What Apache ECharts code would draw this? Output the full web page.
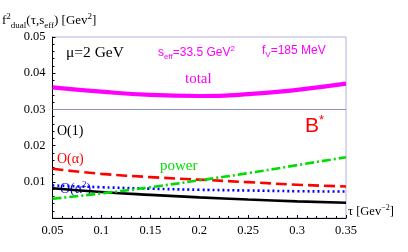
<!DOCTYPE html>
<html><head><meta charset="utf-8">
<script src="https://cdn.jsdelivr.net/npm/echarts@6/dist/echarts.min.js"></script>
<style>html,body{margin:0;padding:0;background:#fff}#c{width:408px;height:252px}</style>
</head><body><div id="c"></div>
<script>
const tau = [0.05, 0.1, 0.15, 0.2, 0.25, 0.3, 0.35];
const total = [0.0361, 0.0349, 0.0340, 0.0337, 0.0342, 0.0354, 0.0371];
const oAlpha = [0.0136, 0.0122, 0.0113, 0.0106, 0.0099, 0.0092, 0.0087];
const power = [0.0053, 0.0068, 0.0085, 0.0104, 0.0124, 0.0146, 0.0168];
const oAlpha2 = [0.0090, 0.0085, 0.0081, 0.0078, 0.0076, 0.0074, 0.0073];
const o1 = [0.0082, 0.0072, 0.0064, 0.0057, 0.0051, 0.0046, 0.0042];
const refLine = 0.0343;
const xTicks = [0.05, 0.1, 0.15, 0.2, 0.25, 0.3, 0.35];
const yTicks = [0.01, 0.02, 0.03, 0.04, 0.05];

const pts = arr => tau.map((t, i) => [t, arr[i]]);
const serif = '"Liberation Serif", "DejaVu Serif", serif';
const sans = '"Liberation Sans", Arial, sans-serif';

const chart = echarts.init(document.getElementById('c'), null, {renderer: 'canvas'});
chart.setOption({
  animation: false,
  grid: {left: 52.5, right: 62, top: 37, bottom: 34, show: true, borderColor: '#b0b0dc', borderWidth: 1},
  xAxis: {
    type: 'value', min: 0.05, max: 0.35, interval: 0.05,
    axisLine: {show: true, lineStyle: {color: '#000', width: 1}},
    axisTick: {show: true, inside: true, length: 3, lineStyle: {color: '#000'}},
    minorTick: {show: true, splitNumber: 5, length: 2, lineStyle: {color: '#000'}},
    splitLine: {show: false},
    axisLabel: {color: '#000', fontFamily: serif, fontSize: 12.5, margin: 6,
      formatter: v => { const m = xTicks.find(t => Math.abs(t - v) < 1e-9); return m === undefined ? '' : String(m); }}
  },
  yAxis: {
    type: 'value', min: 0, max: 0.05, interval: 0.01,
    axisLine: {show: true, lineStyle: {color: '#000', width: 1}},
    axisTick: {show: true, inside: true, length: 3, lineStyle: {color: '#000'}},
    minorTick: {show: true, splitNumber: 5, length: 2, lineStyle: {color: '#000'}},
    splitLine: {show: false},
    axisLabel: {color: '#000', fontFamily: serif, fontSize: 12.5, margin: 7,
      formatter: v => { const m = yTicks.find(t => Math.abs(t - v) < 1e-9); return m === undefined ? '' : String(m); }}
  },
  series: [
    {type: 'line', data: pts(o1), smooth: true, symbol: 'none', lineStyle: {color: '#000', width: 2.6}},
    {type: 'line', data: pts(oAlpha2), smooth: true, symbol: 'none', lineStyle: {color: '#0000ff', width: 2.6, type: [2, 3]}},
    {type: 'line', data: pts(oAlpha), smooth: true, symbol: 'none', lineStyle: {color: '#ff0000', width: 2.6, type: [11, 5]}},
    {type: 'line', data: pts(power), smooth: true, symbol: 'none', lineStyle: {color: '#00dd00', width: 2.6, type: [9, 3, 2, 3]}},
    {type: 'line', data: pts(total), smooth: true, symbol: 'none', lineStyle: {color: '#ff00ff', width: 4.2},
      markLine: {silent: true, symbol: 'none', label: {show: false},
        lineStyle: {color: '#9090c8', width: 1, type: 'solid'}, data: [{yAxis: refLine}]}}
  ],
  graphic: [
    {type: 'text', left: 2, top: 12, style: {
      text: '{n|f}{sup|2}{sub|dual}{n|(τ,s}{sub|eff}{n|) [Gev}{sup|2}{n|]}',
      fontFamily: serif, fill: '#000',
      rich: {
        n: {fontSize: 13, fontFamily: serif, lineHeight: 18, verticalAlign: 'middle'},
        sup: {fontSize: 9, fontFamily: serif, lineHeight: 18, verticalAlign: 'top', padding: [0, 0, 6, 0]},
        sub: {fontSize: 9, fontFamily: serif, lineHeight: 18, verticalAlign: 'bottom', padding: [4, 0, 0, 0]}
      }}},
    {type: 'text', left: 66, top: 45, style: {text: 'μ=2 GeV', font: '15.5px ' + serif, fill: '#000'}},
    {type: 'text', left: 158, top: 45, style: {
      text: '{n|s}{sub|eff}{n|=33.5 GeV}{sup|2}', fill: '#ff00ff',
      rich: {
        n: {fontSize: 12, fontFamily: sans, lineHeight: 16, verticalAlign: 'middle', fill: '#ff00ff'},
        sup: {fontSize: 8, fontFamily: sans, lineHeight: 16, verticalAlign: 'top', padding: [0, 0, 5, 0], fill: '#ff00ff'},
        sub: {fontSize: 8, fontFamily: sans, lineHeight: 16, verticalAlign: 'bottom', padding: [3, 0, 0, 0], fill: '#ff00ff'}
      }}},
    {type: 'text', left: 262, top: 45, style: {
      text: '{n|f}{sub|V}{n|=185 MeV}', fill: '#ff00ff',
      rich: {
        n: {fontSize: 12, fontFamily: sans, lineHeight: 16, verticalAlign: 'middle', fill: '#ff00ff'},
        sub: {fontSize: 8, fontFamily: sans, lineHeight: 16, verticalAlign: 'bottom', padding: [3, 0, 0, 0], fill: '#ff00ff'}
      }}},
    {type: 'text', left: 185, top: 72, style: {text: 'total', font: '15px ' + serif, fill: '#ff00ff'}},
    {type: 'text', left: 305, top: 114, style: {
      text: '{b|B}{s|*}', fill: '#ff0000',
      rich: {
        b: {fontSize: 21, fontFamily: sans, lineHeight: 24, verticalAlign: 'middle', fill: '#ff0000'},
        s: {fontSize: 13, fontFamily: sans, lineHeight: 24, verticalAlign: 'top', padding: [0, 0, 6, 0], fill: '#ff0000'}
      }}},
    {type: 'text', left: 57, top: 124, style: {text: 'O(1)', font: '14px ' + serif, fill: '#000'}},
    {type: 'text', left: 57, top: 152, style: {text: 'O(α)', font: '14px ' + serif, fill: '#ff0000'}},
    {type: 'text', left: 160, top: 159, style: {text: 'power', font: '15px ' + serif, fill: '#00dd00'}},
    {type: 'text', left: 60, top: 180, style: {
      text: '{n|O(α}{sup|2}{n|)}', fill: '#0000ff',
      rich: {
        n: {fontSize: 14, fontFamily: serif, lineHeight: 18, verticalAlign: 'middle', fill: '#0000ff'},
        sup: {fontSize: 9, fontFamily: serif, lineHeight: 18, verticalAlign: 'top', padding: [0, 0, 6, 0], fill: '#0000ff'}
      }}},
    {type: 'text', left: 348, top: 204, style: {
      text: '{n|τ [Gev}{sup|−2}{n|]}', fill: '#000',
      rich: {
        n: {fontSize: 12.5, fontFamily: serif, lineHeight: 16, verticalAlign: 'middle'},
        sup: {fontSize: 8, fontFamily: serif, lineHeight: 16, verticalAlign: 'top', padding: [0, 0, 5, 0]}
      }}}
  ]
});
</script></body></html>
